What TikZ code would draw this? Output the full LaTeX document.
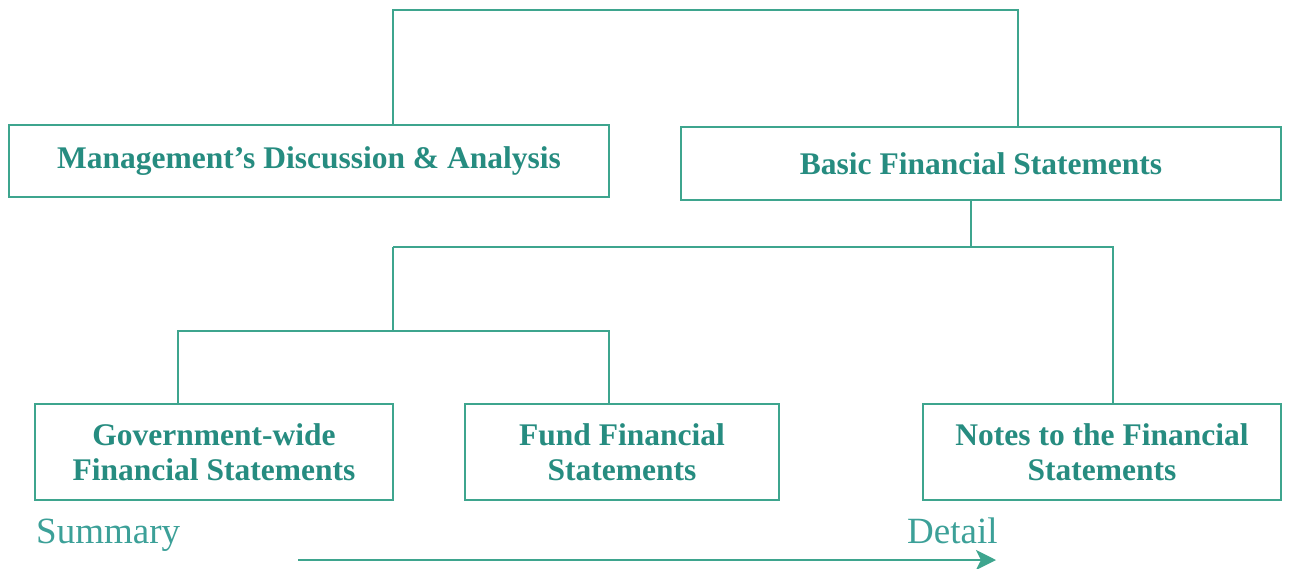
\documentclass[tikz,border=0pt]{standalone}
\usepackage{fontspec}
\setmainfont{Liberation Serif}
\usetikzlibrary{arrows.meta}
\definecolor{tealtext}{RGB}{38,140,128}
\definecolor{tealline}{RGB}{62,165,142}
\definecolor{teallabel}{RGB}{60,160,152}
\begin{document}
\begin{tikzpicture}[x=1pt,y=-1pt,
  box/.style={draw=tealline,line width=1.6pt,fill=white,inner sep=0pt,
    text=tealtext,font=\bfseries\fontsize{31.5}{35}\selectfont,align=center},
  link/.style={draw=tealline,line width=1.6pt},
  axislabel/.style={text=teallabel,font=\fontsize{37}{42}\selectfont,inner sep=0pt}]
\useasboundingbox (0,0) rectangle (1303,568);
% boxes (corner to corner)
\node[box,minimum width=600pt,minimum height=72pt] (mda) at (309,161) {Management’s Discussion \& Analysis};
\node[box,minimum width=600pt,minimum height=73pt] (bfs) at (981,163.5) {Basic Financial Statements};
\node[box,minimum width=358pt,minimum height=96pt] (gw) at (214,452) {Government-wide\\Financial Statements};
\node[box,minimum width=314pt,minimum height=96pt] (fund) at (622,452) {Fund Financial\\Statements};
\node[box,minimum width=358pt,minimum height=96pt] (notes) at (1102,452) {Notes to the Financial\\Statements};
% junction points
\coordinate (topL) at (393,10);
\coordinate (topR) at (1018,10);
\coordinate (midT) at (971,247);
\coordinate (midL) at (393,247);
\coordinate (midR) at (1113,247);
\coordinate (lowT) at (393,331);
\coordinate (lowL) at (178,331);
\coordinate (lowR) at (609,331);
% connectors
\draw[link] (mda.north -| topL) -- (topL) -- (topR) -- (bfs.north -| topR);
\draw[link] (bfs.south -| midT) -- (midT);
\draw[link] (midL) -- (midR) -- (notes.north -| midR);
\draw[link] (midL) -- (lowT);
\draw[link] (gw.north -| lowL) -- (lowL) -- (lowR) -- (fund.north -| lowR);
% summary to detail axis
\node[axislabel,anchor=base west] (sum) at (36,543) {Summary};
\node[axislabel,anchor=base west] (det) at (907,543) {Detail};
\coordinate (axstart) at (298,560);
\coordinate (axend) at (996,560);
\draw[draw=tealline,line width=2pt,-{Stealth[length=20pt,width=20pt,inset=5pt]}] (axstart) -- (axend);
\end{tikzpicture}
\end{document}
